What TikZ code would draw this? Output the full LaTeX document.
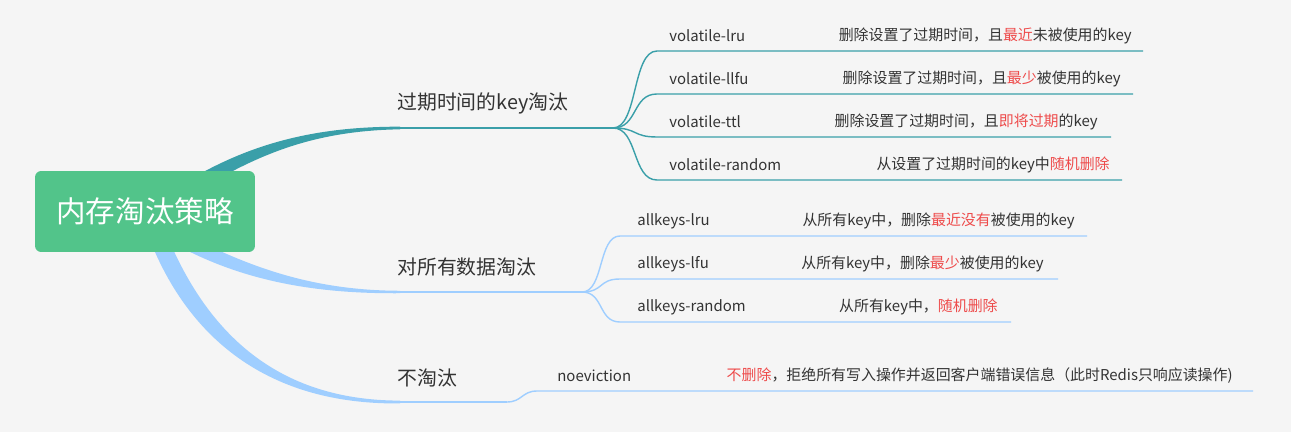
\documentclass[tikz,border=0pt]{standalone}
\usepackage{fontspec}
\setmainfont{Noto Sans CJK SC}
\definecolor{bgc}{HTML}{F5F5F5}
\definecolor{rootc}{HTML}{52C48A}
\definecolor{tealc}{HTML}{3A9FA9}
\definecolor{bluec}{HTML}{9FCEFF}
\definecolor{txtc}{HTML}{333333}
\definecolor{hot}{HTML}{EE4B4B}
\begin{document}
\begin{tikzpicture}
  [x=0.02cm,y=-0.02cm,
  root/.style={shape=rectangle,rounded corners=3.5pt,fill=rootc,text=white,minimum width=4.4cm,minimum height=1.62cm,font=\fontsize{16.8pt}{20pt}\selectfont},
  topic/.style={anchor=west,inner sep=0pt,text=txtc,font=\fontsize{11.3pt}{14pt}\selectfont},
  leaf/.style={anchor=west,inner sep=0pt,text=txtc,font=\fontsize{8.5pt}{10pt}\selectfont},
  desc/.style={anchor=east,inner sep=0pt,text=txtc,font=\fontsize{8.5pt}{10pt}\selectfont},
  trunk/.style={line width=1.5pt},
  twig/.style={line width=0.8pt}]

  \fill [bgc] (0,0) rectangle (1291,432);
  \useasboundingbox (0,0) rectangle (1291,432);

  \coordinate (B1) at (400,128);
  \coordinate (K1) at (588,128);
  \coordinate (J1) at (613,128);
  \coordinate (B2) at (400,292);
  \coordinate (K2) at (556,292);
  \coordinate (J2) at (582,292);
  \coordinate (B3) at (400,402);
  \coordinate (K3) at (476,402);
  \coordinate (J3) at (507,402);

  \coordinate (S11) at (657,51);   \coordinate (E11) at (1143,51);
  \coordinate (S12) at (657,94);   \coordinate (E12) at (1133,94);
  \coordinate (S13) at (657,137);  \coordinate (E13) at (1111,137);
  \coordinate (S14) at (657,180);  \coordinate (E14) at (1122,180);
  \coordinate (S21) at (620,236);  \coordinate (E21) at (1087,236);
  \coordinate (S22) at (620,279);  \coordinate (E22) at (1058,279);
  \coordinate (S23) at (620,322);  \coordinate (E23) at (1011,322);
  \coordinate (S31) at (537,391);  \coordinate (E31) at (1253,391);

  % tapered branches out of the root
  \fill [tealc] (158,200) .. controls (230,150) and (300,126.5) .. ([yshift=0.75pt]B1) -- ([yshift=-0.75pt]B1) .. controls (300,131) and (240,162) .. (160,215) -- cycle;
  \fill [bluec] (150,215) .. controls (230,260) and (300,290.5) .. ([yshift=0.7pt]B2) -- ([yshift=-0.7pt]B2) .. controls (300,294) and (220,276) .. (145,226) -- cycle;
  \fill [bluec] (158,212) .. controls (198,325) and (270,400.5) .. ([yshift=0.8pt]B3) -- ([yshift=-0.8pt]B3) .. controls (265,405) and (180,335) .. (142,218) -- cycle;

  \node (R) [root] at (145,211.5) {内存淘汰策略};

  \draw [trunk,tealc] (B1) -- (K1);
  \draw [twig,tealc] (K1) -- (J1);
  \draw [trunk,bluec] (B2) -- (K2);
  \draw [twig,bluec] (K2) -- (J2);
  \draw [trunk,bluec] (B3) -- (K3);
  \draw [twig,bluec] (K3) -- (J3);

  \draw [twig,tealc] (J1) .. controls +(25,0) and +(-25,0) .. (S11) -- (E11);
  \draw [twig,tealc] (J1) .. controls +(25,0) and +(-25,0) .. (S12) -- (E12);
  \draw [twig,tealc] (J1) .. controls +(25,0) and +(-25,0) .. (S13) -- (E13);
  \draw [twig,tealc] (J1) .. controls +(25,0) and +(-25,0) .. (S14) -- (E14);
  \draw [twig,bluec] (J2) .. controls +(22,0) and +(-22,0) .. (S21) -- (E21);
  \draw [twig,bluec] (J2) .. controls +(22,0) and +(-22,0) .. (S22) -- (E22);
  \draw [twig,bluec] (J2) .. controls +(22,0) and +(-22,0) .. (S23) -- (E23);
  \draw [twig,bluec] (J3) .. controls +(15,0) and +(-15,0) .. (S31) -- (E31);

  \node (T1) [topic] at (397,103) {过期时间的key淘汰};
  \node (T2) [topic] at (397,267) {对所有数据淘汰};
  \node (T3) [topic] at (397,378) {不淘汰};

  \node (L11) [leaf] at (669,36) {volatile-lru};
  \node (L12) [leaf] at (669,79) {volatile-llfu};
  \node (L13) [leaf] at (669,122) {volatile-ttl};
  \node (L14) [leaf] at (669,165) {volatile-random};
  \node (L21) [leaf] at (637,221) {allkeys-lru};
  \node (L22) [leaf] at (637,264) {allkeys-lfu};
  \node (L23) [leaf] at (637,307) {allkeys-random};
  \node (L31) [leaf] at (557,376) {noeviction};

  \node (D11) [desc] at (1132,36) {删除设置了过期时间，且\textcolor{hot}{最近}未被使用的key};
  \node (D12) [desc] at (1121,79) {删除设置了过期时间，且\textcolor{hot}{最少}被使用的key};
  \node (D13) [desc] at (1098,122) {删除设置了过期时间，且\textcolor{hot}{即将过期}的key};
  \node (D14) [desc] at (1110,165) {从设置了过期时间的key中\textcolor{hot}{随机删除}};
  \node (D21) [desc] at (1075,221) {从所有key中，删除\textcolor{hot}{最近没有}被使用的key};
  \node (D22) [desc] at (1044,264) {从所有key中，删除\textcolor{hot}{最少}被使用的key};
  \node (D23) [desc] at (998,307) {从所有key中，\textcolor{hot}{随机删除}};
  \node (D31) [desc] at (1233,376) {\textcolor{hot}{不删除}，拒绝所有写入操作并返回客户端错误信息（此时Redis只响应读操作)};

\end{tikzpicture}
\end{document}
